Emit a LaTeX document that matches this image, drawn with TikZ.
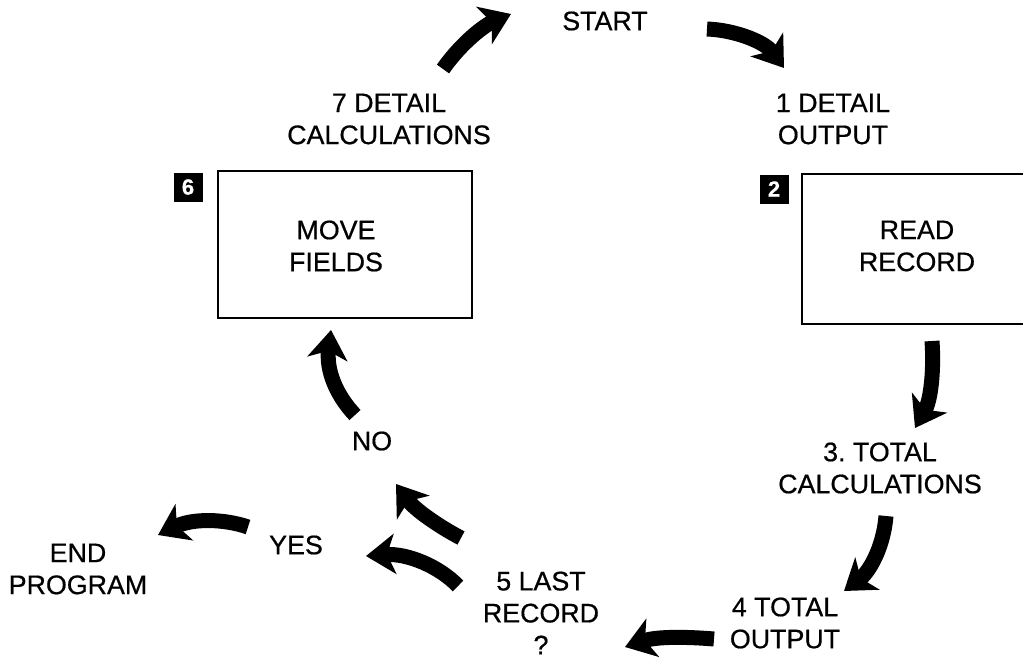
\documentclass[tikz,border=0pt]{standalone}
\usepackage{fontspec}
\setmainfont{Liberation Sans}[FakeBold=0.6]
\usetikzlibrary{arrows.meta}
\frenchspacing
\begin{document}
\begin{tikzpicture}[x=1pt,y=-1pt,
  lbl/.style={font=\fontsize{26.8}{32}\selectfont, align=center, inner sep=0pt},
  stepbox/.style={draw, line width=2.8pt},
  tag/.style={fill=black, text=white, minimum size=29pt, inner sep=0pt,
              font=\fontsize{22}{22}\selectfont\bfseries},
  bigarrow/.style={line width=15pt, -{Stealth[length=29pt,width=40pt,inset=8pt]}}]
\useasboundingbox (0,0) rectangle (1023,662);
\clip (0,0) rectangle (1023,662);

% step labels
\node[lbl] (start)  at (605,21)  {START};
\node[lbl] (s1)     at (833,119) {1 DETAIL\\OUTPUT};
\node[lbl] (s3)     at (880,468) {3. TOTAL\\CALCULATIONS};
\node[lbl] (s4)     at (785,623) {4 TOTAL\\OUTPUT};
\node[lbl] (s5)     at (541,613) {5 LAST\\RECORD\\?};
\node[lbl] (yes)    at (296,545) {YES};
\node[lbl] (endp)   at (78,569)  {END\\PROGRAM};
\node[lbl] (no)     at (372,441) {NO};
\node[lbl] (s7)     at (389,119) {7 DETAIL\\CALCULATIONS};

% boxed steps
\draw[stepbox] (802,174) rectangle (1030,324);
\node[lbl] (s2) at (917,246) {READ\\RECORD};
\node[tag] (t2) at (774,189) {2};

\draw[stepbox] (218,171) rectangle (472,318);
\node[lbl] (s6) at (336,246) {MOVE\\FIELDS};
\node[tag] (t6) at (188,187) {6};

% arrow end points
\coordinate (a1t) at (443,69);  \coordinate (a1h) at (511,14);
\coordinate (a2t) at (707,29);  \coordinate (a2h) at (784,68);
\coordinate (a3t) at (932,341); \coordinate (a3h) at (915,428);
\coordinate (a4t) at (886,516); \coordinate (a4h) at (844,591);
\coordinate (a5t) at (714,639); \coordinate (a5h) at (625,647);
\coordinate (a6t) at (461,538); \coordinate (a6h) at (396,484);
\coordinate (a7t) at (458,586); \coordinate (a7h) at (366,556);
\coordinate (a8t) at (248,527); \coordinate (a8h) at (158,535);
\coordinate (a9t) at (355,415); \coordinate (a9h) at (331,330);

% flow arrows
\draw[bigarrow] (a1t) .. controls (462,42) and (485,25) .. (a1h);
\draw[bigarrow] (a2t) .. controls (735,30) and (765,42) .. (a2h);
\draw[bigarrow] (a3t) .. controls (934,370) and (931,400) .. (a3h);
\draw[bigarrow] (a4t) .. controls (883,550) and (868,573) .. (a4h);
\draw[bigarrow] (a5t) .. controls (690,637) and (658,636) .. (a5h);
\draw[bigarrow] (a6t) .. controls (440,527) and (415,510) .. (a6h);
\draw[bigarrow] (a7t) .. controls (440,567) and (408,553) .. (a7h);
\draw[bigarrow] (a8t) .. controls (225,519) and (193,518) .. (a8h);
\draw[bigarrow] (a9t) .. controls (336,395) and (326,370) .. (a9h);
\end{tikzpicture}
\end{document}
